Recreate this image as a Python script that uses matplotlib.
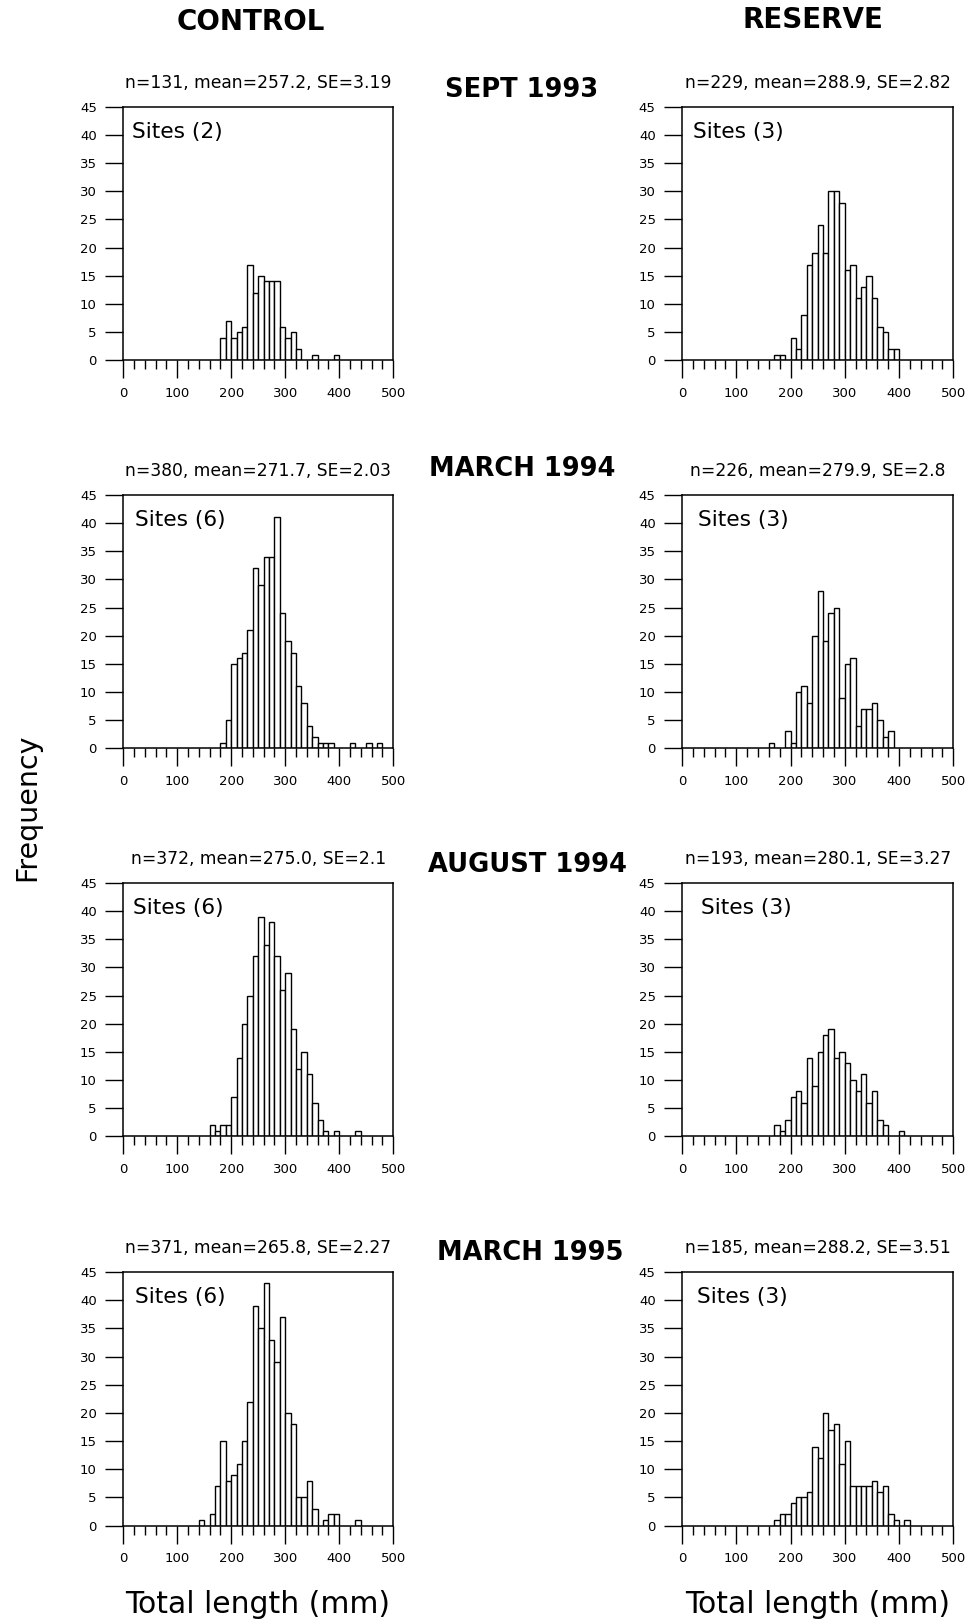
import matplotlib
matplotlib.use("Agg")
import matplotlib.pyplot as plt
from matplotlib.ticker import MultipleLocator

# total length bins are 10 mm wide; each list starts at the given bin
bin_width = 10

dates = ["SEPT 1993", "MARCH 1994", "AUGUST 1994", "MARCH 1995"]

control_start = [180, 180, 160, 140]
control_counts = [
    [4, 7, 4, 5, 6, 17, 12, 15, 14, 14, 14, 6, 4, 5, 2, 0, 0, 1, 0, 0, 0, 1],
    [1, 5, 15, 16, 17, 21, 32, 29, 34, 34, 41, 24, 19, 17, 11, 8, 4, 2, 1, 1,
     1, 0, 0, 0, 1, 0, 0, 1, 0, 1],
    [2, 1, 2, 2, 7, 14, 20, 25, 32, 39, 34, 38, 32, 26, 29, 19, 12, 15, 11, 6,
     3, 1, 0, 1, 0, 0, 0, 1],
    [1, 0, 2, 7, 15, 8, 9, 11, 15, 22, 39, 35, 43, 33, 29, 37, 20, 18, 5, 5,
     8, 3, 0, 1, 2, 2, 0, 0, 0, 1],
]
control_stats = ["n=131, mean=257.2, SE=3.19", "n=380, mean=271.7, SE=2.03",
                 "n=372, mean=275.0, SE=2.1", "n=371, mean=265.8, SE=2.27"]
control_sites = [2, 6, 6, 6]

reserve_start = [170, 160, 170, 170]
reserve_counts = [
    [1, 1, 0, 4, 2, 8, 17, 19, 24, 19, 30, 30, 28, 16, 17, 11, 13, 15, 11, 6,
     5, 2, 2],
    [1, 0, 0, 3, 1, 10, 11, 8, 20, 28, 19, 24, 25, 9, 15, 16, 4, 7, 7, 8, 5,
     2, 3],
    [2, 1, 3, 7, 8, 6, 14, 9, 15, 18, 19, 14, 15, 13, 10, 8, 11, 6, 8, 3, 2,
     0, 0, 1],
    [1, 2, 2, 4, 5, 5, 6, 14, 12, 20, 17, 18, 11, 15, 7, 7, 7, 7, 8, 6, 7, 2,
     1, 0, 1],
]
reserve_stats = ["n=229, mean=288.9, SE=2.82", "n=226, mean=279.9, SE=2.8",
                 "n=193, mean=280.1, SE=3.27", "n=185, mean=288.2, SE=3.51"]
reserve_sites = [3, 3, 3, 3]

# layout (figure fractions)
row_bottom = [0.7780, 0.5389, 0.2998, 0.0600]
row_height = 0.1562
col_left = [0.1271, 0.7039]
col_width = [0.2787, 0.2798]
date_xy = [(0.5383, 0.9445), (0.5394, 0.7110), (0.5439, 0.4670), (0.5470, 0.2280)]
site_x = [[0.032, 0.045, 0.038, 0.045], [0.042, 0.06, 0.068, 0.054]]

fig = plt.figure(figsize=(9.69, 16.23), dpi=100)


def draw_panel(ax, start, counts, stats, sites, sx):
    lefts = [start + bin_width * i for i in range(len(counts))]
    keep = [(l, c) for l, c in zip(lefts, counts) if c > 0]
    ax.bar([k[0] for k in keep], [k[1] for k in keep], width=bin_width,
           align="edge", facecolor="white", edgecolor="black", linewidth=1.0)
    ax.set_xlim(0, 500)
    ax.set_ylim(0, 45)
    ax.xaxis.set_major_locator(MultipleLocator(100))
    ax.xaxis.set_minor_locator(MultipleLocator(20))
    ax.yaxis.set_major_locator(MultipleLocator(5))
    ax.tick_params(axis="y", direction="out", length=13, width=1, pad=6,
                   labelsize=9.5)
    ax.tick_params(axis="x", which="major", direction="out", length=13,
                   width=1, pad=6, labelsize=9.5)
    ax.tick_params(axis="x", which="minor", direction="out", length=6.5,
                   width=1)
    for s in ax.spines.values():
        s.set_linewidth(1.1)
    ax.text(0.5, 1.095, stats, transform=ax.transAxes, ha="center",
            va="center", fontsize=12.3)
    ax.text(sx, 0.9, "Sites (%d)" % sites, transform=ax.transAxes,
            ha="left", va="center", fontsize=15.7)


for r in range(4):
    axc = fig.add_axes([col_left[0], row_bottom[r], col_width[0], row_height])
    draw_panel(axc, control_start[r], control_counts[r], control_stats[r],
               control_sites[r], site_x[0][r])
    axr = fig.add_axes([col_left[1], row_bottom[r], col_width[1], row_height])
    draw_panel(axr, reserve_start[r], reserve_counts[r], reserve_stats[r],
               reserve_sites[r], site_x[1][r])
    fig.text(date_xy[r][0], date_xy[r][1], dates[r], ha="center", va="center",
             fontsize=18.5, fontweight="bold")

fig.text(0.2585, 0.9866, "CONTROL", ha="center", va="center", fontsize=20,
         fontweight="bold")
fig.text(0.8386, 0.9879, "RESERVE", ha="center", va="center", fontsize=20,
         fontweight="bold")
fig.text(0.0280, 0.5028, "Frequency", ha="center", va="center",
         rotation=90, fontsize=20.5)
fig.text(0.2663, 0.0115, "Total length (mm)", ha="center", va="center",
         fontsize=21.5)
fig.text(0.8442, 0.0115, "Total length (mm)", ha="center", va="center",
         fontsize=21.5)

fig.savefig("out.png", dpi=100)
